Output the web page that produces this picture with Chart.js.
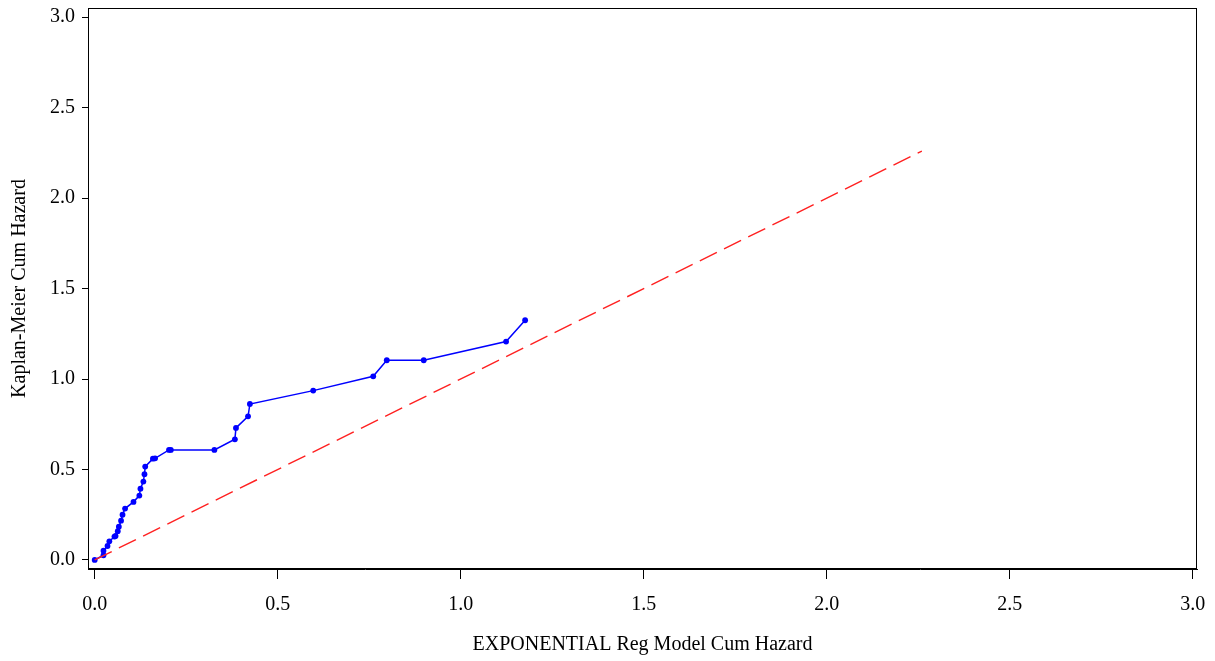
<!DOCTYPE html>
<html>
<head>
<meta charset="utf-8">
<script src="https://cdn.jsdelivr.net/npm/chart.js@4/dist/chart.umd.min.js"></script>
<style>
  html, body { margin: 0; padding: 0; background: #fff; }
  #wrap { width: 1215px; height: 661px; position: relative; }
</style>
</head>
<body>
<div id="wrap"><canvas id="chart"></canvas></div>
<script>
// Kaplan-Meier cumulative hazard vs exponential model cumulative hazard
var kmX = [0, 0.024, 0.024, 0.035, 0.040, 0.054, 0.057, 0.063, 0.066, 0.072, 0.076, 0.083,
	0.106, 0.122, 0.125, 0.133, 0.136, 0.138, 0.159, 0.165, 0.203, 0.208, 0.327, 0.383,
	0.386, 0.419, 0.424, 0.597, 0.761, 0.798, 0.899, 1.124, 1.176];
var kmY = [0, 0.026, 0.051, 0.077, 0.103, 0.129, 0.133, 0.159, 0.184, 0.217, 0.250, 0.284,
	0.321, 0.356, 0.394, 0.433, 0.474, 0.516, 0.560, 0.562, 0.608, 0.608, 0.608, 0.667,
	0.730, 0.794, 0.862, 0.936, 1.015, 1.104, 1.104, 1.207, 1.325];

// reference line y = x
var refX = [0, 2.26];
var refY = [0, 2.26];

var xTicks = [0, 0.5, 1.0, 1.5, 2.0, 2.5, 3.0];
var yTicks = [0, 0.5, 1.0, 1.5, 2.0, 2.5, 3.0];

var FONT = "'Liberation Serif', 'Times New Roman', serif";

var toPts = function (xs, ys) {
	return xs.map(function (x, i) { return { x: x, y: ys[i] }; });
};

// box around the plot area
var framePlugin = {
	id: "frame",
	afterDraw: function (chart) {
		var a = chart.chartArea, ctx = chart.ctx;
		ctx.save();
		ctx.strokeStyle = "#000";
		ctx.lineWidth = 1;
		ctx.strokeRect(Math.round(a.left) + 0.5, Math.round(a.top) + 0.5,
			Math.round(a.right - a.left) - 1, Math.round(a.bottom - a.top) - 1);
		ctx.restore();
	},
};

new Chart(document.getElementById("chart"), {
	type: "scatter",
	data: {
		datasets: [
			{
				label: "Reference",
				data: toPts(refX, refY),
				showLine: true,
				borderColor: "#ff2020",
				borderWidth: 1.4,
				borderDash: [19, 8],
				pointRadius: 0,
				fill: false,
			},
			{
				label: "KM",
				data: toPts(kmX, kmY),
				showLine: true,
				borderColor: "#0000ff",
				borderWidth: 1.5,
				backgroundColor: "#0000ff",
				pointBackgroundColor: "#0000ff",
				pointBorderColor: "#0000ff",
				pointRadius: 2.9,
				pointBorderWidth: 0,
				fill: false,
			},
		],
	},
	options: {
		responsive: true,
		maintainAspectRatio: false,
		animation: false,
		layout: { padding: { top: 8, right: 18, left: 0, bottom: 0 } },
		plugins: {
			legend: { display: false },
			tooltip: { enabled: false },
		},
		scales: {
			x: {
				type: "linear",
				min: -0.0183,
				max: 3.0117,
				afterBuildTicks: function (s) { s.ticks = xTicks.map(function (v) { return { value: v }; }); },
				afterFit: function (s) { s.height = 92; s.paddingLeft = 0; s.paddingRight = 0; },
				ticks: {
					color: "#000",
					font: { family: FONT, size: 20 },
					padding: 14,
					maxRotation: 0,
					callback: function (v) { return Number(v).toFixed(1); },
				},
				grid: { display: true, drawOnChartArea: false, drawTicks: true, tickLength: 10, color: "#000" },
				border: { display: true, color: "#000", width: 1 },
				title: {
					display: true,
					text: "EXPONENTIAL Reg Model Cum Hazard",
					color: "#000",
					font: { family: FONT, size: 20 },
					padding: { top: 0, bottom: 4 },
				},
			},
			y: {
				type: "linear",
				min: -0.05,
				max: 3.051,
				afterBuildTicks: function (s) { s.ticks = yTicks.map(function (v) { return { value: v }; }); },
				afterFit: function (s) { s.width = 88; s.paddingTop = 0; s.paddingBottom = 0; },
				ticks: {
					color: "#000",
					font: { family: FONT, size: 20 },
					padding: 7,
					callback: function (v) { return Number(v).toFixed(1); },
				},
				grid: { display: true, drawOnChartArea: false, drawTicks: true, tickLength: 6, color: "#000" },
				border: { display: true, color: "#000", width: 1 },
				title: {
					display: true,
					text: "Kaplan-Meier Cum Hazard",
					color: "#000",
					font: { family: FONT, size: 20 },
					padding: { top: 8, bottom: 0 },
				},
			},
		},
	},
	plugins: [framePlugin],
});
</script>
</body>
</html>
